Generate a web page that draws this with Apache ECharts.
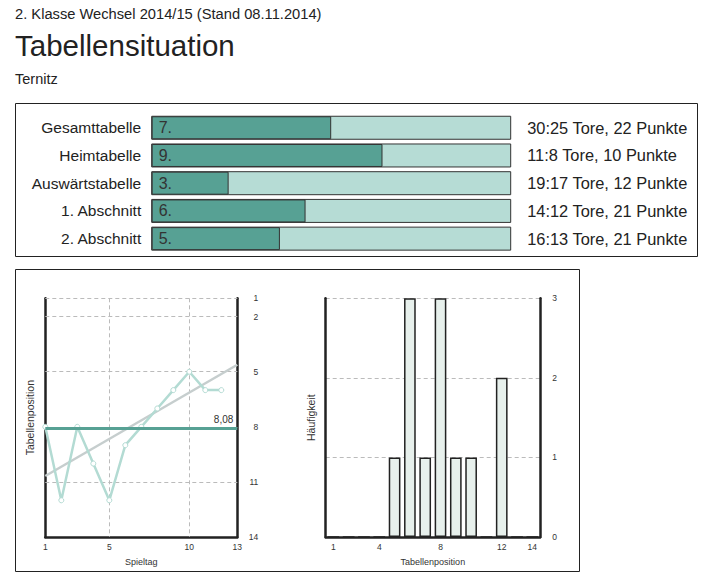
<!DOCTYPE html>
<html>
<head>
<meta charset="utf-8">
<script src="https://cdn.jsdelivr.net/npm/echarts@6/dist/echarts.min.js"></script>
<style>
html,body{margin:0;padding:0;background:#fff;}
#chart{width:712px;height:581px;}
</style>
</head>
<body>
<div id="chart"></div>
<script>
// ---- texts ----
const headline = '2. Klasse Wechsel 2014/15 (Stand 08.11.2014)';
const pageTitle = 'Tabellensituation';
const teamName = 'Ternitz';

// ---- table situation ----
const tableNames = ['Gesamttabelle', 'Heimtabelle', 'Auswärtstabelle', '1. Abschnitt', '2. Abschnitt'];
const tableRanks = [7, 9, 3, 6, 5];
const goalsFor = [30, 11, 19, 14, 16];
const goalsAgainst = [25, 8, 17, 12, 13];
const points = [22, 10, 12, 21, 21];
const teamCount = 14;

// ---- position per matchday ----
const matchdays = [1, 2, 3, 4, 5, 6, 7, 8, 9, 10, 11, 12];
const positions = [8, 12, 8, 10, 12, 9, 8, 7, 6, 5, 6, 6];
const trendMatchdays = [1, 13];
const trendPositions = [10.68, 4.62];
const matchdayTicks = [1, 5, 10, 13];
const positionTicks = [1, 2, 5, 8, 11, 14];
const positionGridRows = [1, 2, 5, 8, 11];
const matchdayGridCols = [5, 10];

// ---- histogram ----
const histPositions = ['1','2','3','4','5','6','7','8','9','10','11','12','13','14'];
const histCounts = [0, 0, 0, 0, 1, 3, 1, 3, 1, 1, 0, 2, 0, 0];
const histTicks = ['1', '4', '8', '12', '14'];

const summaries = tableNames.map((_, i) => goalsFor[i] + ':' + goalsAgainst[i] + ' Tore, ' + points[i] + ' Punkte');

const FONT = '"Liberation Sans", Arial, sans-serif';
const DARK = '#57a194';
const LIGHT = '#b6dcd5';
const AXIS = '#222';
const TXT = '#222';

const chart = echarts.init(document.getElementById('chart'), null, {renderer: 'svg'});

const axisLineStyle = {show: true, onZero: false, lineStyle: {color: AXIS, width: 2.5}};
const gridDash = {type: [4, 3], color: '#bbbbbb', width: 1};

const option = {
  animation: false,
  textStyle: {fontFamily: FONT},
  title: [
    {text: headline, left: 15, top: 6.5, padding: 0,
     textStyle: {fontSize: 14.7, fontWeight: 'normal', color: TXT, fontFamily: FONT}},
    {text: pageTitle, left: 15, top: 30, padding: 0,
     textStyle: {fontSize: 29.5, fontWeight: 'normal', color: TXT, fontFamily: FONT}},
    {text: teamName, left: 15, top: 71, padding: 0,
     textStyle: {fontSize: 14.5, fontWeight: 'normal', color: TXT, fontFamily: FONT}}
  ],
  graphic: [
    {type: 'rect', silent: true, z: 0, shape: {x: 15.5, y: 103.5, width: 682, height: 153},
     style: {fill: 'none', stroke: '#222', lineWidth: 1}},
    {type: 'rect', silent: true, z: 0, shape: {x: 15.5, y: 269.5, width: 564, height: 302},
     style: {fill: 'none', stroke: '#222', lineWidth: 1}}
  ],
  grid: [
    {left: 151.7, width: 359, top: 113.9, height: 138.6, outerBoundsMode: 'none'},
    {left: 45.3, width: 192, top: 298.3, height: 238.7, outerBoundsMode: 'none'},
    {left: 325.7, width: 214.3, top: 298.3, height: 238.7, outerBoundsMode: 'none'}
  ],
  xAxis: [
    {gridIndex: 0, type: 'value', min: 0, max: teamCount, show: false},
    {gridIndex: 1, type: 'value', min: 1, max: 13, interval: 1,
     axisLine: axisLineStyle, axisTick: {show: false}, splitLine: {show: false},
     axisLabel: {fontSize: 8.5, color: '#333', margin: 5,
                 formatter: v => matchdayTicks.includes(v) ? String(v) : ''},
     name: 'Spieltag', nameLocation: 'middle', nameGap: 20,
     nameTextStyle: {fontSize: 9, color: '#333'}},
    {gridIndex: 2, type: 'category', data: histPositions, boundaryGap: true,
     axisLine: axisLineStyle, axisTick: {show: false}, splitLine: {show: false},
     axisLabel: {fontSize: 8.5, color: '#333', margin: 5,
                 interval: (i, v) => histTicks.includes(v)},
     name: 'Tabellenposition', nameLocation: 'middle', nameGap: 20,
     nameTextStyle: {fontSize: 9, color: '#333'}}
  ],
  yAxis: [
    {gridIndex: 0, type: 'category', data: tableNames, inverse: true,
     axisLine: {show: false}, axisTick: {show: false}, splitLine: {show: false},
     axisLabel: {fontSize: 15.5, color: TXT, margin: 10.5}},
    {gridIndex: 0, type: 'category', data: summaries, inverse: true, position: 'right',
     axisLine: {show: false}, axisTick: {show: false}, splitLine: {show: false},
     axisLabel: {fontSize: 16.4, color: TXT, margin: 16.5}},
    {gridIndex: 1, type: 'value', inverse: true, min: 1, max: 14, interval: 1, position: 'right',
     axisLine: axisLineStyle, axisTick: {show: false}, splitLine: {show: false},
     axisLabel: {fontSize: 8.5, color: '#333', margin: 21, align: 'right',
                 formatter: v => positionTicks.includes(v) ? String(v) : ''}},
    {gridIndex: 1, type: 'value', inverse: true, min: 1, max: 14, interval: 1, position: 'left',
     axisLine: axisLineStyle, axisTick: {show: false}, splitLine: {show: false},
     axisLabel: {show: false},
     name: 'Tabellenposition', nameLocation: 'middle', nameRotate: 90, nameGap: 10,
     nameTextStyle: {fontSize: 10.5, color: '#333'}},
    {gridIndex: 2, type: 'value', min: 0, max: 3, interval: 1, position: 'right',
     axisLine: axisLineStyle, axisTick: {show: false},
     splitLine: {show: true, lineStyle: gridDash},
     axisLabel: {fontSize: 8.5, color: '#333', margin: 17, align: 'right'}},
    {gridIndex: 2, type: 'value', min: 0, max: 3, interval: 1, position: 'left',
     axisLine: axisLineStyle, axisTick: {show: false}, splitLine: {show: false},
     axisLabel: {show: false},
     name: 'Häufigkeit', nameLocation: 'middle', nameRotate: 90, nameGap: 9,
     nameTextStyle: {fontSize: 10.5, color: '#333'}}
  ],
  series: [
    {
      name: 'Tabellenplatz', type: 'bar', xAxisIndex: 0, yAxisIndex: 0,
      data: tableRanks, barWidth: 23,
      itemStyle: {color: DARK, borderColor: '#333', borderWidth: 1},
      showBackground: true,
      backgroundStyle: {color: LIGHT, borderColor: '#333', borderWidth: 1},
      label: {show: true, position: 'insideLeft', distance: 7, formatter: '{c}.',
              fontSize: 16, color: '#333'}
    },
    {
      name: 'Raster', type: 'line', xAxisIndex: 1, yAxisIndex: 2, z: 1,
      data: [[matchdays[0], positions[0]]], symbol: 'none', lineStyle: {opacity: 0},
      markLine: {
        silent: true, symbol: 'none', animation: false, z: 1,
        label: {show: false}, lineStyle: gridDash,
        data: positionGridRows.map(v => ({yAxis: v})).concat(matchdayGridCols.map(v => ({xAxis: v})))
      }
    },
    {
      name: 'Trend', type: 'line', xAxisIndex: 1, yAxisIndex: 2, z: 3,
      data: trendMatchdays.map((d, i) => [d, trendPositions[i]]),
      symbol: 'none', lineStyle: {color: '#c6cece', width: 2.5}
    },
    {
      name: 'Position', type: 'line', xAxisIndex: 1, yAxisIndex: 2, z: 4,
      data: matchdays.map((d, i) => [d, positions[i]]),
      symbol: 'circle', symbolSize: 5,
      lineStyle: {color: '#b3dbd3', width: 2.5},
      itemStyle: {color: '#ffffff', borderColor: '#b3dbd3', borderWidth: 1},
      markLine: {
        silent: true, symbol: 'none', animation: false,
        data: [{type: 'average', name: 'Durchschnitt'}],
        lineStyle: {color: DARK, width: 3, type: 'solid'},
        label: {position: 'insideEndTop', distance: 4, fontSize: 10, color: '#333',
                formatter: p => p.value.toFixed(2).replace('.', ',')}
      }
    },
    {
      name: 'Häufigkeit', type: 'bar', xAxisIndex: 2, yAxisIndex: 4,
      data: histCounts, barWidth: 11.7,
      itemStyle: {color: '#e7f0ec', borderColor: '#222', borderWidth: 1.5}
    }
  ]
};

chart.setOption(option);
</script>
</body>
</html>
